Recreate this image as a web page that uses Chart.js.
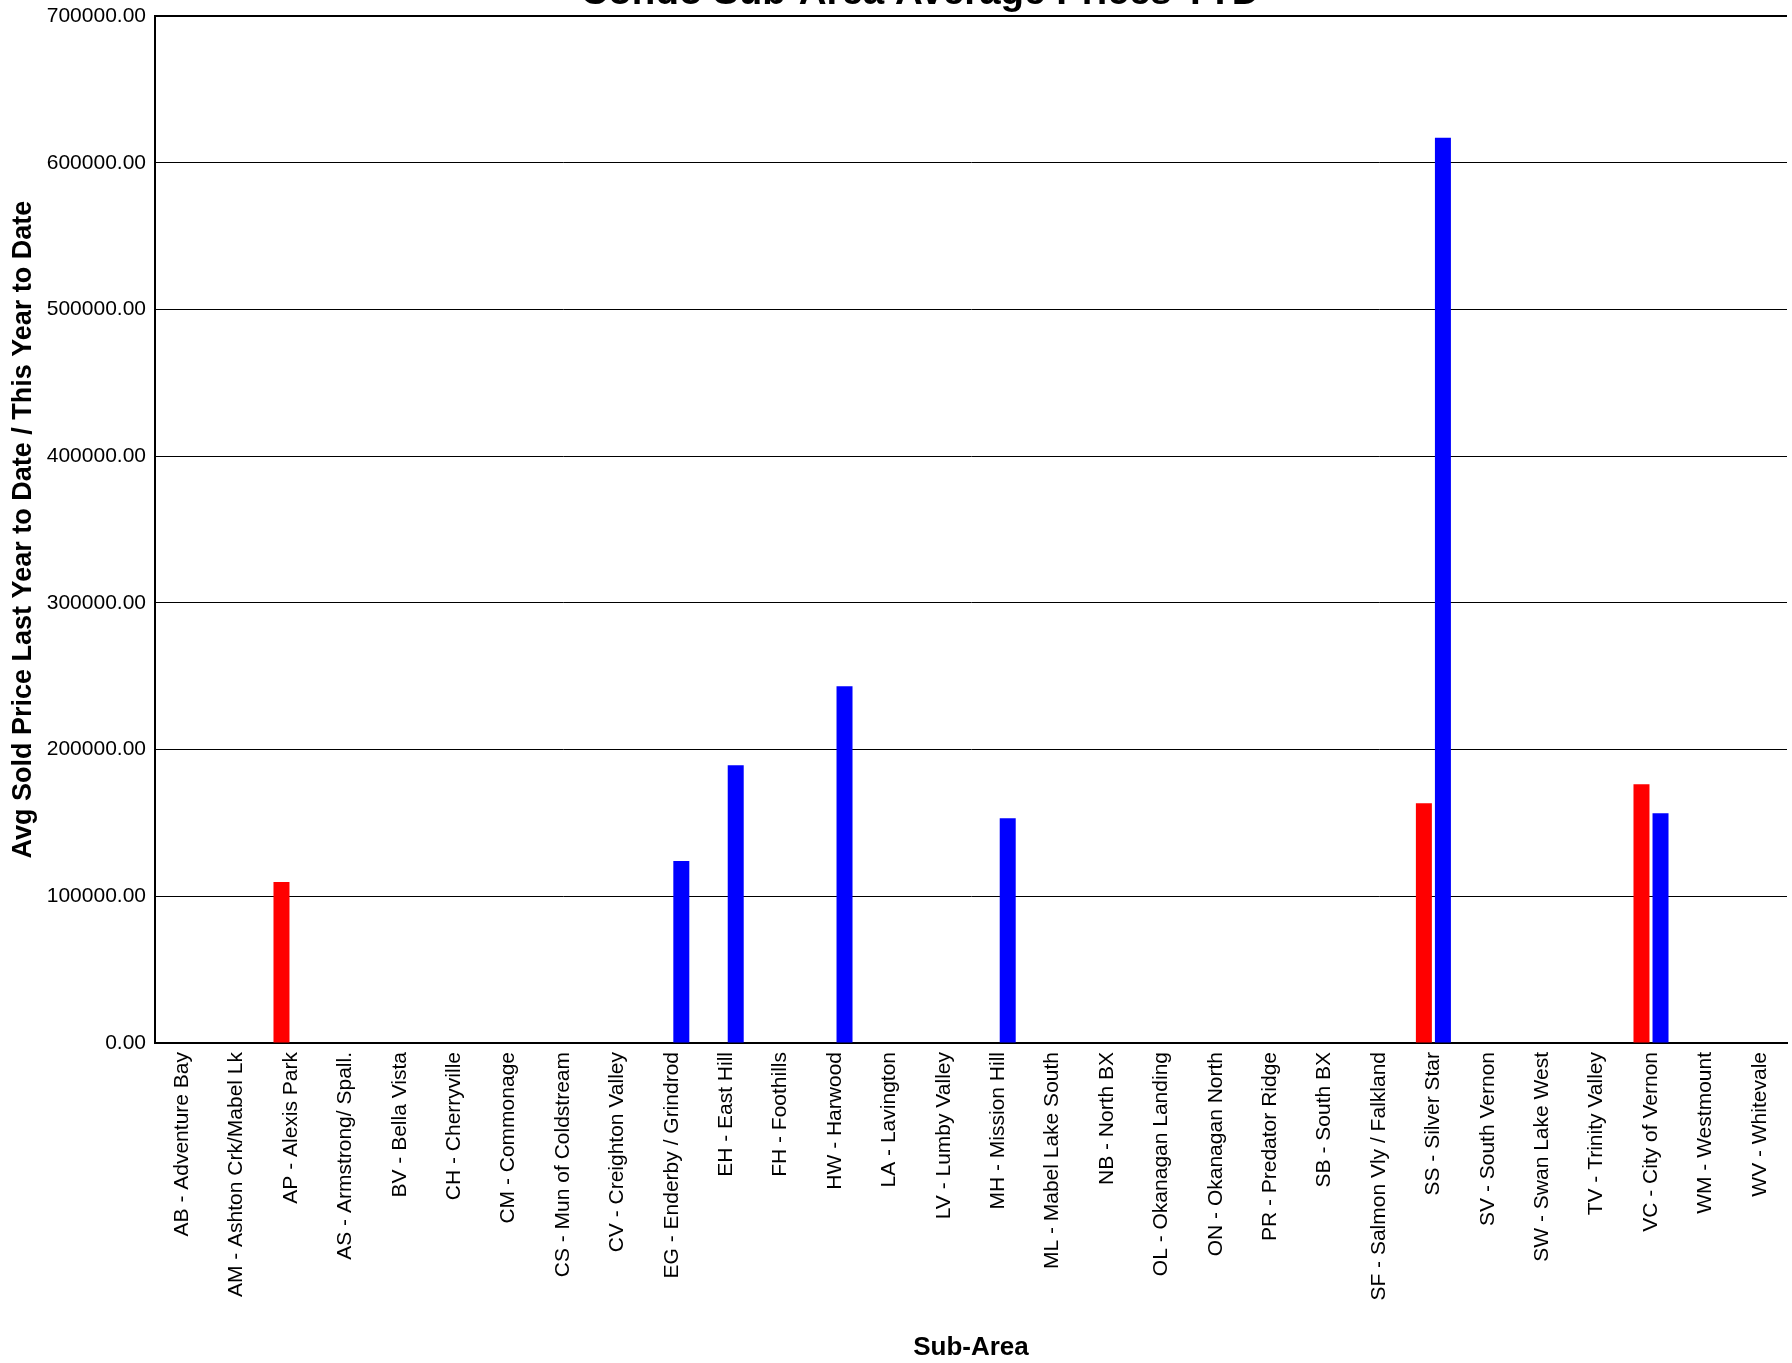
<!DOCTYPE html>
<html>
<head>
<meta charset="utf-8">
<script src="https://cdn.jsdelivr.net/npm/chart.js@4/dist/chart.umd.min.js"></script>
<style>
    html, body { margin: 0; padding: 0; background: #fff; overflow: hidden; }
    body { width: 1792px; height: 1363px; position: relative; }
    #wrap { position: absolute; left: 0; top: -40px; width: 1840px; height: 1403px; }
</style>
</head>
<body>
<div id="wrap"><canvas id="chart"></canvas></div>
<script>
// Sous-zones (axe X)
const subAreas = [
    'AB - Adventure Bay', 'AM - Ashton Crk/Mabel Lk', 'AP - Alexis Park', 'AS - Armstrong/ Spall.',
    'BV - Bella Vista', 'CH - Cherryville', 'CM - Commonage', 'CS - Mun of Coldstream',
    'CV - Creighton Valley', 'EG - Enderby / Grindrod', 'EH - East Hill', 'FH - Foothills',
    'HW - Harwood', 'LA - Lavington', 'LV - Lumby Valley', 'MH - Mission Hill',
    'ML - Mabel Lake South', 'NB - North BX', 'OL - Okanagan Landing', 'ON - Okanagan North',
    'PR - Predator Ridge', 'SB - South BX', 'SF - Salmon Vly / Falkland', 'SS - Silver Star',
    'SV - South Vernon', 'SW - Swan Lake West', 'TV - Trinity Valley', 'VC - City of Vernon',
    'WM - Westmount', 'WV - Whitevale'
];

// Prix moyen vendu, année dernière à date
const lastYearAvg = [
    0, 0, 109700, 0, 0, 0, 0, 0, 0, 0, 0, 0, 0, 0, 0, 0,
    0, 0, 0, 0, 0, 0, 0, 163500, 0, 0, 0, 176400, 0, 0
];

// Prix moyen vendu, cette année à date
const thisYearAvg = [
    0, 0, 0, 0, 0, 0, 0, 0, 0, 124000, 189400, 0, 243200, 0, 0, 153300,
    0, 0, 0, 0, 0, 0, 0, 617200, 0, 0, 0, 156700, 0, 0
];

const yTicks = [0, 100000, 200000, 300000, 400000, 500000, 600000, 700000];

const FONT = 'Arial, "Liberation Sans", sans-serif';

const ctx = document.getElementById('chart').getContext('2d');

new Chart(ctx, {
    type: 'bar',
    data: {
        labels: subAreas,
        datasets: [{
            label: 'Last Year to Date',
            data: lastYearAvg,
            backgroundColor: '#ff0000',
            borderWidth: 0
        }, {
            label: 'This Year to Date',
            data: thisYearAvg,
            backgroundColor: '#0000ff',
            borderWidth: 0
        }]
    },
    options: {
        responsive: true,
        maintainAspectRatio: false,
        animation: false,
        datasets: {
            bar: {
                categoryPercentage: 0.70,
                barPercentage: 0.84
            }
        },
        layout: {
            padding: 0
        },
        plugins: {
            legend: { display: false },
            tooltip: { enabled: false },
            title: {
                display: true,
                text: 'Condo Sub-Area Average Prices YTD',
                color: '#000',
                font: { family: FONT, size: 38.5, weight: 'bold', lineHeight: 1.2 },
                padding: { top: 10, bottom: 0 }
            }
        },
        scales: {
            y: {
                min: 0,
                max: 700000,
                afterBuildTicks(scale) {
                    scale.ticks = yTicks.map(v => ({ value: v }));
                },
                afterFit(scale) {
                    scale.width = 155;
                },
                ticks: {
                    color: '#000',
                    padding: 9,
                    font: { family: FONT, size: 21 },
                    callback: (value) => Number(value).toFixed(2)
                },
                grid: {
                    drawTicks: false,
                    color: '#000',
                    lineWidth: (c) => (c.tick && c.tick.value === 700000 ? 2 : 1)
                },
                border: { display: true, color: '#000', width: 2 },
                title: {
                    display: true,
                    text: 'Avg Sold Price Last Year to Date / This Year to Date',
                    color: '#000',
                    font: { family: FONT, size: 27, weight: 'bold', lineHeight: 1.0 },
                    padding: { top: 10, bottom: 0 }
                }
            },
            // axe fantôme à droite: garde la zone de tracé à 1787px
            yRight: {
                type: 'linear',
                position: 'right',
                display: true,
                grid: { display: false, drawTicks: false },
                border: { display: false },
                ticks: { display: false },
                afterFit(scale) {
                    scale.width = 53;
                }
            },
            x: {
                ticks: {
                    color: '#000',
                    autoSkip: false,
                    minRotation: 90,
                    maxRotation: 90,
                    padding: 9,
                    font: { family: FONT, size: 21 }
                },
                afterFit(scale) {
                    scale.height = 320;
                },
                grid: { display: false, drawTicks: false },
                border: { display: true, color: '#000', width: 2 },
                title: {
                    display: true,
                    text: 'Sub-Area',
                    color: '#000',
                    font: { family: FONT, size: 26, weight: 'bold', lineHeight: 1.2 },
                    padding: { top: 0, bottom: 0 }
                }
            }
        }
    }
});
</script>
</body>
</html>
